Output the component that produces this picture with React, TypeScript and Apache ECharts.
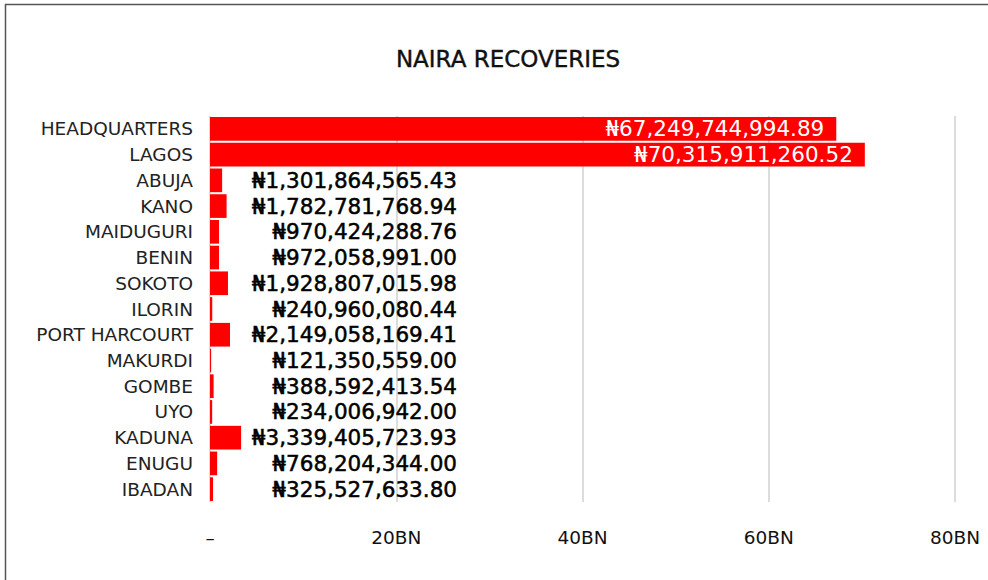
import React, { useEffect, useRef } from "react";
import * as echarts from "echarts";

const categories = [
  "HEADQUARTERS", "LAGOS", "ABUJA", "KANO", "MAIDUGURI", "BENIN", "SOKOTO", "ILORIN",
  "PORT HARCOURT", "MAKURDI", "GOMBE", "UYO", "KADUNA", "ENUGU", "IBADAN",
];
const recoveries = [
  67249744994.89, 70315911260.52, 1301864565.43, 1782781768.94, 970424288.76,
  972058991.0, 1928807015.98, 240960080.44, 2149058169.41, 121350559.0,
  388592413.54, 234006942.0, 3339405723.93, 768204344.0, 325527633.8,
];
const tickLabels: Record<number, string> = { 0: "–", 20: "20BN", 40: "40BN", 60: "60BN", 80: "80BN" };
const insideThreshold = 20e9;

const FONT = "'DejaVu Sans', sans-serif";

function fmt(v: number): string {
  const [i, d] = v.toFixed(2).split(".");
  return "₦" + i.replace(/\B(?=(\d{3})+(?!\d))/g, ",") + "." + d;
}

export default function App() {
  const ref = useRef<HTMLDivElement>(null);
  useEffect(() => {
    document.body.style.margin = "0";
    const chart = echarts.init(ref.current!, null, { renderer: "svg" });
    const data = recoveries.map((v) => {
      const big = v > insideThreshold;
      return {
        value: v / 1e9,
        label: big
          ? {
              show: true,
              position: "insideRight",
              distance: 12,
              color: "#ffffff",
              fontSize: 21.5,
              fontFamily: FONT,
              formatter: fmt(v),
            }
          : {
              show: true,
              position: [247, "50%"],
              align: "right",
              verticalAlign: "middle",
              color: "#000000",
              fontSize: 21.5,
              fontFamily: FONT,
              textBorderColor: "#000",
              textBorderWidth: 0.5,
              formatter: fmt(v),
            },
      };
    });
    chart.setOption({
      animation: false,
      title: {
        text: "NAIRA RECOVERIES",
        left: 503,
        top: 42,
        textAlign: "center",
        textStyle: {
          fontFamily: FONT,
          fontSize: 23,
          fontWeight: "normal",
          color: "#111",
          textBorderColor: "#111",
          textBorderWidth: 0.4,
        },
      },
      graphic: [
        {
          type: "polyline",
          shape: { points: [[5.5, 580], [5.5, 4.5], [988, 4.5]] },
          style: { stroke: "#555", lineWidth: 1.5, fill: null },
        },
      ],
      grid: { left: 210, right: 33, top: 116, bottom: 78, containLabel: false },
      xAxis: {
        type: "value",
        min: 0,
        max: 80,
        interval: 20,
        axisLine: { show: false },
        axisTick: { show: false },
        splitLine: { show: true, lineStyle: { color: "#d0d0d0", width: 1.5 } },
        axisLabel: {
          margin: 26,
          fontSize: 18.5,
          fontFamily: FONT,
          color: "#111",
          formatter: (v: number) => tickLabels[v] ?? String(v),
        },
      },
      yAxis: {
        type: "category",
        inverse: true,
        data: categories,
        axisLine: { show: false },
        axisTick: { show: false },
        axisLabel: { margin: 17, fontSize: 18.5, fontFamily: FONT, color: "#222" },
      },
      series: [
        {
          type: "bar",
          data,
          barCategoryGap: "8%",
          itemStyle: { color: "#ff0000" },
        },
      ],
    });
    return () => chart.dispose();
  }, []);
  return <div ref={ref} style={{ width: 988, height: 580 }} />;
}
